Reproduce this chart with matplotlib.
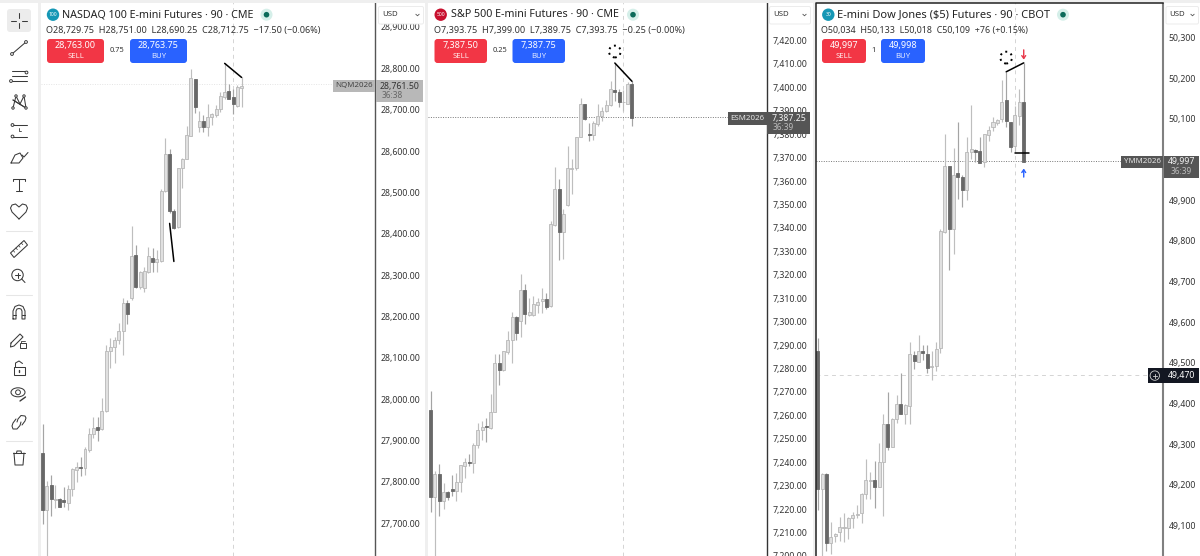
import matplotlib
matplotlib.use("Agg")
import matplotlib.pyplot as plt
from matplotlib.patches import FancyBboxPatch, Rectangle, Circle, Ellipse, Polygon

plt.rcParams['font.family'] = ['Noto Sans', 'DejaVu Sans']

# ---------- data ----------
nq_open = [27869,27731,27792,27756,27758,27757,27750,27782,27829,27837,27834,27877,
           27917,27933,27927,27971,28116,28125,28142,28166,28232,28245,28349,28272,
           28269,28308,28342,28331,28335,28504,28594,28456,28416,28558,28581,28636,
           28774,28659,28673,28659,28682,28687,28702,28731,28744,28729.75,28709,28752]
nq_close = [27731,27790,27758,27759,27740,27751,27782,27830,27837,27834,27879,27917,
            27931,27925,27971,28116,28125,28142,28166,28232,28205,28346,28272,28308,
            28311,28345,28332,28339,28504,28593,28455,28415,28558,28581,28638,28776,
            28707,28673,28659,28682,28689,28702,28733,28743,28727,28712.75,28754,28758]
nq_high = [27939,27802,27817,27792,27762,27788,27792,27834,27847,27859,27885,27931,
           27957,27957,28004,28131,28148,28151,28185,28244,28241,28419,28373,28310,
           28320,28367,28366,28361,28508,28631,28605,28460,28558,28582,28661,28798,
           28775,28698,28687,28714,28691,28711,28742,28812,28762,28751,28760,28778]
nq_low = [27697,27600,27717,27738,27739,27740,27731,27766,27800,27814,27816,27873,
          27907,27899,27926,27970,28076,28088,28133,28107,28181,28241,28268,28267,
          28259,28306,28308,28308,28332,28502,28449,28412,28415,28510,28580,28636,
          28693,28647,28647,28636,28663,28683,28695,28727,28725,28690.25,28706,28706]

es_open = [7262.1,7225,7235.2,7223.5,7227.4,7228.4,7227.6,7231.4,7238.5,7240.3,7239.6,7247.3,
           7253.8,7255.3,7254.5,7261.6,7282.3,7279.2,7287,7292.3,7301.8,7300.1,7313.4,7302.7,
           7302.7,7307.2,7308.9,7309.6,7306.5,7341.2,7356.5,7338.1,7349.7,7365.3,7365.4,7379,
           7392.7,7380.2,7379.5,7384.2,7387.7,7390.1,7392.5,7399,7398,7393.75,7393.1,7401.6]
es_close = [7225,7235,7223.5,7227.4,7225,7227.9,7231.4,7238.8,7240.3,7239.5,7247.3,7253.8,
            7255.2,7254.9,7261.6,7282.4,7279.2,7287.4,7292.3,7301.8,7295,7313.4,7303.2,7304,
            7307.5,7308.6,7309.6,7306.2,7341.6,7356.5,7338.1,7345.9,7365.5,7365.7,7378.8,7392.7,
            7386.3,7379.5,7384.9,7387.7,7390.1,7392.5,7399.3,7398.2,7393.8,7393.75,7401.6,7387]
es_high = [7270.6,7236.4,7239.2,7231,7227.9,7234.6,7235.4,7238.9,7241.7,7243.4,7248.4,7256.6,
           7257.6,7259,7269,7286,7286,7287.7,7296.2,7304,7302.3,7320.4,7316,7310,
           7310.8,7310.3,7314.3,7312.2,7343,7366,7360.8,7348,7375,7369.3,7378.8,7395.5,
           7393,7384.6,7385.6,7392.7,7391.7,7394.8,7402.9,7410.4,7399.3,7399,7402.3,7402.6]
es_low = [7218.6,7195,7217.2,7220,7223.9,7225.7,7223.6,7227.2,7233.5,7238.5,7235.6,7246,
          7249.4,7248.8,7254.4,7261.5,7273,7279,7286.4,7282.4,7292.3,7293.5,7299.1,7302.5,
          7302.3,7303.7,7303.7,7305.4,7306.2,7341,7326.3,7326.8,7349.4,7354.7,7364.8,7378.8,
          7386,7377.1,7377.5,7383.7,7385.6,7389.4,7392,7394,7391.7,7389.75,7393,7383.4]

ym_open = [49529,49189,49226,49057,49075,49084,49094,49094,49118,49125,49130,49177,
           49210,49212,49195,49257,49350,49294,49361,49399,49374,49394,49520,49503,
           49528,49521,49489,49492,49536,49823,49984,49829,49966,49958,49925,50019,
           50023,50022,49993,50060,50081,50089,50100,50147,50092,50034,50108,50142]
ym_close = [49189,49226,49057,49072,49079,49097,49097,49118,49125,49128,49177,49212,
            49212,49194,49256,49350,49293,49362,49398,49374,49395,49521,49504,49528,
            49525,49487,49492,49533,49825,49985,49829,49962,49958,49925,50018,50025,
            50019,49991,50062,50074,50093,50097,50142,50095,50030,50109,50141,49995]
ym_high = [49560,49228,49230,49108,49082,49121,49130,49121,49133,49149,49180,49264,
           49231,49258,49303,49373,49428,49363,49420,49476,49398,49552,49529,49569,
           49543,49545,49529,49550,49828,50062,49984,50028,50092,49962,50056,50134,
           50025,50055,50064,50083,50106,50100,50196,50216,50092,50133,50174,50237]
ym_low = [49139,49000,49037,49029,49059,49061,49059,49066,49094,49119,49105,49166,
          49166,49143,49194,49123,49285,49293,49351,49374,49349,49349,49484,49503,
          49507,49476,49458,49480,49523,49819,49728,49767,49903,49884,49900,50002,
          49995,49991,49983,50046,50071,50085,50093,50081,50019,50018,50085,49995]

nq_ticks = [27700,27800,27900,28000,28100,28200,28300,28400,28500,28600,28700,28800,28900]
es_ticks = [7200,7210,7220,7230,7240,7250,7260,7270,7280,7290,7300,7310,7320,7330,7340,
            7350,7360,7370,7380,7390,7400,7410,7420]
ym_ticks = [49100,49200,49300,49400,49500,49600,49700,49800,49900,50000,50100,50200,50300]

nq_trend = [([43,47],[28812,28778]), ([30,31],[28425,28333])]
es_trend = [([43,47],[7410.4,7402.6])]
ym_trend = [([43,47],[50216,50238]), ([45,48.3],[50017,50017])]

nq_last, es_last, ym_last, ym_cross = 28761.5, 7387.25, 49997, 49470
hover_bar = 45

# ---------- figure ----------
W, H = 1200, 556
fig = plt.figure(figsize=(W/100, H/100), dpi=100, facecolor='white')

UP_FILL, UP_EDGE, DN_FILL = '#e0e0e0', '#b8b8b8', '#686868'
WICK_UP, WICK_DN = '#bebebe', '#a4a4a4'
BW = 0.7


def panel(px0, px1, xlim, ylim, o, c, h, l, ticks, fmt, pad, spine_color, spine_lw):
    ax = fig.add_axes([px0/W, 0, (px1-px0)/W, 1], facecolor='white')
    ax.set_xlim(*xlim)
    ax.set_ylim(*ylim)
    for s in ('top', 'left', 'bottom'):
        ax.spines[s].set_visible(False)
    ax.spines['right'].set_color(spine_color)
    ax.spines['right'].set_linewidth(spine_lw)
    ax.set_xticks([])
    ax.yaxis.tick_right()
    ax.set_yticks(ticks)
    ax.set_yticklabels([fmt.format(t) for t in ticks])
    ax.tick_params(axis='y', length=0, pad=pad, labelsize=6.3, labelcolor='#333333')
    idx = list(range(len(o)))
    colors_w = [WICK_UP if c[i] >= o[i] else WICK_DN for i in idx]
    ax.vlines(idx, l, h, colors=colors_w, linewidth=0.85, zorder=2)
    for i in idx:
        up = c[i] >= o[i]
        ax.bar(i, abs(c[i]-o[i]), bottom=min(o[i], c[i]), width=BW,
               color=UP_FILL if up else DN_FILL,
               edgecolor=UP_EDGE if up else DN_FILL, linewidth=0.6, zorder=3)
    ax.axvline(hover_bar, color='#d4d4d4', lw=0.7, ls=(0, (4, 4)), zorder=1)
    return ax


ax1 = panel(41, 375.3, (-0.4, 78.6), (27620.8, 28965.2),
            nq_open, nq_close, nq_high, nq_low, nq_ticks, '{:,.2f}', 4.0, '#555555', 1.0)
ax2 = panel(428, 766.7, (-0.62, 78.46), (7200.93, 7437.29),
            es_open, es_close, es_high, es_low, es_ticks, '{:,.2f}', 4.0, '#333333', 1.0)
ax3 = panel(816, 1162.7, (-0.38, 78.7), (49024.6, 50392.7),
            ym_open, ym_close, ym_high, ym_low, ym_ticks, '{:,.0f}', 4.4, '#808080', 1.5)

ax1.axhline(nq_last, color='#e4e4e4', lw=0.7, ls=(0, (1, 1.5)), zorder=1)
ax2.axhline(es_last, color='#777777', lw=0.7, ls=(0, (1, 1.5)), zorder=1)
ax3.axhline(ym_last, color='#777777', lw=0.7, ls=(0, (1, 1.5)), zorder=1)
ax3.axhline(ym_cross, color='#d4d4d4', lw=0.7, ls=(0, (4, 4)), zorder=1)

for ax, trends in ((ax1, nq_trend), (ax2, es_trend), (ax3, ym_trend)):
    for xs, ys in trends:
        ax.plot(xs, ys, color='black', lw=1.1, zorder=5, solid_capstyle='round')

ax2.scatter([43], [7415.3], s=72, facecolors='none', edgecolors='black',
            linewidths=1.4, linestyles=(0, (1, 2)), zorder=5)
ax3.scatter([43], [50251], s=72, facecolors='none', edgecolors='black',
            linewidths=1.4, linestyles=(0, (1, 2)), zorder=5)
ax3.annotate('', xy=(47, 50246), xytext=(47, 50270),
             arrowprops=dict(arrowstyle='->,head_width=0.14,head_length=0.2', color='#e8384a',
                             lw=1.0, shrinkA=0, shrinkB=0), zorder=5)
ax3.annotate('', xy=(47, 49978), xytext=(47, 49957),
             arrowprops=dict(arrowstyle='->,head_width=0.14,head_length=0.2', color='#2962ff',
                             lw=1.0, shrinkA=0, shrinkB=0), zorder=5)

# ---------- interface overlay (pixel coordinates) ----------
ov = fig.add_axes([0, 0, 1, 1], zorder=10)
ov.set_xlim(0, W)
ov.set_ylim(H, 0)
ov.axis('off')
ov.patch.set_alpha(0)

STRIP = '#efefef'
for x, y, w, h in ((38, 0, 3, H), (0, 0, W, 2.8), (425, 0, 3, H), (813, 0, 3, H)):
    ov.add_patch(Rectangle((x, y), w, h, fc=STRIP, ec='none'))
# active panel frame
ov.plot([816, 816, 1163], [H, 3.2, 3.2], color='#222222', lw=1.1)


def rbox(x0, y0, x1, y1, fc, ec='none', r=3, lw=0.7, z=1):
    ov.add_patch(FancyBboxPatch((x0+r, y0+r), x1-x0-2*r, y1-y0-2*r,
                                boxstyle=f'round,pad={r},rounding_size={r}',
                                fc=fc, ec=ec, lw=lw, zorder=z))


def header(logo_x, logo_c, logo_t, title, title_x, dot_x, ohlc, ohlc_x,
           sell_box, sell_p, mid, mid_x, buy_box, buy_p, usd_box, title_fs, ohlc_fs):
    ov.add_patch(Circle((logo_x, 14.7), 6.2, fc=logo_c, ec='none'))
    ov.text(logo_x, 14.9, logo_t, color='white', fontsize=3.6, ha='center', va='center', fontweight='bold')
    ov.text(title_x, 14.8, title, color='#222222', fontsize=title_fs, ha='left', va='center')
    ov.add_patch(Circle((dot_x, 14.7), 6, fc='#d5efe9', ec='none'))
    ov.add_patch(Circle((dot_x, 14.7), 2.8, fc='#0b6b5a', ec='none'))
    ov.text(ohlc_x, 30, ohlc, color='#333333', fontsize=ohlc_fs, ha='left', va='center')
    rbox(sell_box[0], 39, sell_box[1], 63, '#f23645')
    rbox(buy_box[0], 39, buy_box[1], 63, '#2962ff')
    for box, p, lab in ((sell_box, sell_p, 'SELL'), (buy_box, buy_p, 'BUY')):
        xc = (box[0]+box[1])/2
        ov.text(xc, 45.8, p, color='white', fontsize=6.5, ha='center', va='center', fontweight='bold')
        ov.text(xc, 56.3, lab, color='#ffe9ea' if lab == 'SELL' else '#e4ebff',
                fontsize=5.6, ha='center', va='center')
    ov.text(mid_x, 50.8, mid, color='#333333', fontsize=5.4, ha='center', va='center')
    rbox(usd_box[0], 6.5, usd_box[1], 24, 'white', ec='#ececec', r=1.5, z=3)
    ov.text(usd_box[0]+3.7, 14.8, 'USD', color='#333333', fontsize=5.6, ha='left', va='center', zorder=4)
    cx = usd_box[1]-6
    ov.plot([cx-1.6, cx, cx+1.6], [14.3, 15.8, 14.3], color='#555555', lw=0.6, zorder=4)


header(53, '#1597b5', '100', 'NASDAQ 100 E-mini Futures · 90 · CME', 62.5, 266.5,
       'O28,729.75  H28,751.00  L28,690.25  C28,712.75  −17.50 (−0.06%)', 46,
       (47, 104), '28,763.00', '0.75', 117, (130, 187), '28,763.75', (378.5, 423.5), 7.72, 6.5)
header(440.7, '#c8102e', '500', 'S&P 500 E-mini Futures · 90 · CME', 450.7, 633,
       'O7,393.75  H7,399.00  L7,389.75  C7,393.75  −0.25 (−0.00%)', 434,
       (434.5, 487), '7,387.50', '0.25', 500, (512.5, 565), '7,387.75', (769.5, 810.5), 7.72, 6.55)
header(828.3, '#1597b5', '30', 'E-mini Dow Jones ($5) Futures · 90 · CBOT', 837.3, 1063,
       'O50,034  H50,133  L50,018  C50,109  +76 (+0.15%)', 821,
       (822, 866), '49,997', '1', 873.5, (881, 925), '49,998', (1166, 1198.5), 7.95, 6.42)


def tag(x0, x1, y0, y1, fc, name, name_c, px0, px1, py1, price, time, price_c, time_c):
    ov.add_patch(Rectangle((x0, y0), x1-x0, y1-y0, fc=fc, ec='none'))
    ov.add_patch(Rectangle((px0, y0), px1-px0, py1-y0, fc=fc, ec='none'))
    ov.text((x0+x1)/2, (y0+y1)/2, name, color=name_c, fontsize=5.7, ha='center', va='center')
    ov.text((px0+px1)/2, y0+6.2, price, color=price_c, fontsize=6.3, ha='center', va='center')
    ov.text(px0+6 if len(price) > 6 else (px0+px1)/2, y0+16, time, color=time_c, fontsize=6.0,
            ha='left' if len(price) > 6 else 'center', va='center')


tag(333.3, 375.3, 80, 92, '#b8b8b8', 'NQM2026', '#444444', 376, 423, 102,
    '28,761.50', '36:38', '#333333', '#666666')
tag(727.7, 766.7, 112, 125, '#555555', 'ESM2026', '#e6e6e6', 767, 810, 134,
    '7,387.25', '36:39', '#f2f2f2', '#bbbbbb')
tag(1121, 1163, 155.7, 167.5, '#555555', 'YMM2026', '#e6e6e6', 1163.5, 1199, 177.5,
    '49,997', '36:39', '#f2f2f2', '#bbbbbb')

# crosshair price tag
ov.add_patch(Rectangle((1147.7, 368.2), 51.3, 14.8, fc='#131722', ec='none'))
ov.add_patch(Circle((1154.8, 375.6), 4.7, fc='none', ec='#d0d0d0', lw=0.6))
ov.plot([1152.8, 1156.8], [375.6, 375.6], color='#d0d0d0', lw=0.6)
ov.plot([1154.8, 1154.8], [373.6, 377.6], color='#d0d0d0', lw=0.6)
ov.text(1181.5, 375.6, '49,470', color='white', fontsize=6.3, ha='center', va='center', fontweight='bold')

# ---------- toolbar icons ----------
IC = '#3a3a3a'


def L(xs, ys, lw=0.75, c=IC):
    ov.plot(xs, ys, color=c, lw=lw, solid_capstyle='round', solid_joinstyle='round', zorder=3)


def dot(x, y, r=1.4):
    ov.add_patch(Circle((x, y), r, fc='white', ec=IC, lw=0.7, zorder=4))


rbox(7, 9, 31, 32, '#ececec', r=3)
L([11, 16], [20.5, 20.5]); L([22, 27], [20.5, 20.5]); L([19, 19], [13, 18]); L([19, 19], [23, 28])
L([12, 26], [54, 42]); dot(12, 54); dot(26, 42)
for yy in (71, 76, 81):
    L([12, 27], [yy, yy])
dot(11, 81); dot(26.5, 72.5)
L([13, 16, 20, 24, 26, 13], [108, 96, 104, 96, 108, 100]); L([13, 26], [100, 108])
for px, py in ((13, 108), (16, 96), (24, 96), (26, 108)):
    dot(px, py, 1.2)
L([12, 27], [125, 125]); L([12, 27], [136.5, 136.5]); dot(12.5, 125); dot(12.5, 136.5)
L([18.5, 18.5, 21], [127.5, 131, 131], lw=0.6)
L([11, 15, 20, 23, 19, 11], [163, 155, 153, 158, 163, 163]); L([22, 24, 28], [155, 157, 152.5])
L([13, 13, 25, 25], [181, 178.5, 178.5, 181]); L([19, 19], [178.5, 191]); L([16, 22], [191, 191])
L([19, 12, 10.5, 12, 15.5, 19, 22.5, 26, 27.5, 26, 19], [219, 212, 208, 205, 204, 207, 204, 205, 208, 212, 219])
for yy in (230.5, 294.5, 440.5):
    L([6, 32], [yy, yy], c='#e6e6e6')
ov.add_patch(Polygon([(10.5, 253), (24, 240.5), (27.5, 245), (14, 257.5)], fc='none', ec=IC, lw=0.75))
for t in (0.2, 0.4, 0.6, 0.8):
    x = 10.5 + 13.5*t
    y = 253 - 12.5*t
    L([x, x+1.5], [y, y+1.7], lw=0.5)
ov.add_patch(Circle((17.5, 275), 5.7, fc='none', ec=IC, lw=0.75))
L([15, 20], [275, 275]); L([17.5, 17.5], [272.5, 277.5]); L([21.7, 25], [279, 282.5])
L([13, 13, 15, 19, 23, 25, 25, 22, 22, 21, 19, 17, 16, 16, 13],
  [319, 311, 306.5, 305, 306.5, 311, 319, 319, 311, 309, 308.5, 309, 311, 319, 319])
L([13, 16], [315, 315]); L([22, 25], [315, 315])
L([11, 20, 23, 14, 10.5, 11], [343, 334, 337, 346, 347, 343])
ov.add_patch(Rectangle((20, 343), 5.5, 4.5, fc='white', ec=IC, lw=0.7, zorder=4))
L([21, 21, 24.5], [343, 340.5, 340.5], lw=0.6)
ov.add_patch(Rectangle((13.5, 367), 11, 7.5, fc='none', ec=IC, lw=0.75))
L([15.5, 15.5, 19, 22.5], [367, 363, 361, 363.5]); L([19, 19], [370, 372], lw=1.0)
ov.add_patch(Ellipse((18, 392.3), 14, 9, fc='none', ec=IC, lw=0.75))
ov.add_patch(Circle((18, 392.3), 2.4, fc='none', ec=IC, lw=0.7))
L([20, 25.5], [401, 397], lw=1.0)
L([22, 25, 26, 25, 21, 18, 17], [425, 421, 418, 416, 415.5, 419, 422])
L([16, 13, 12, 13, 17, 20, 21], [419, 423, 426, 429, 429, 425.5, 422])
L([13, 25], [453, 453]); L([16.5, 17, 21, 21.5], [453, 451, 451, 453])
L([14, 15, 23, 24], [453, 465, 465, 453])

fig.savefig('out.png', dpi=100)
